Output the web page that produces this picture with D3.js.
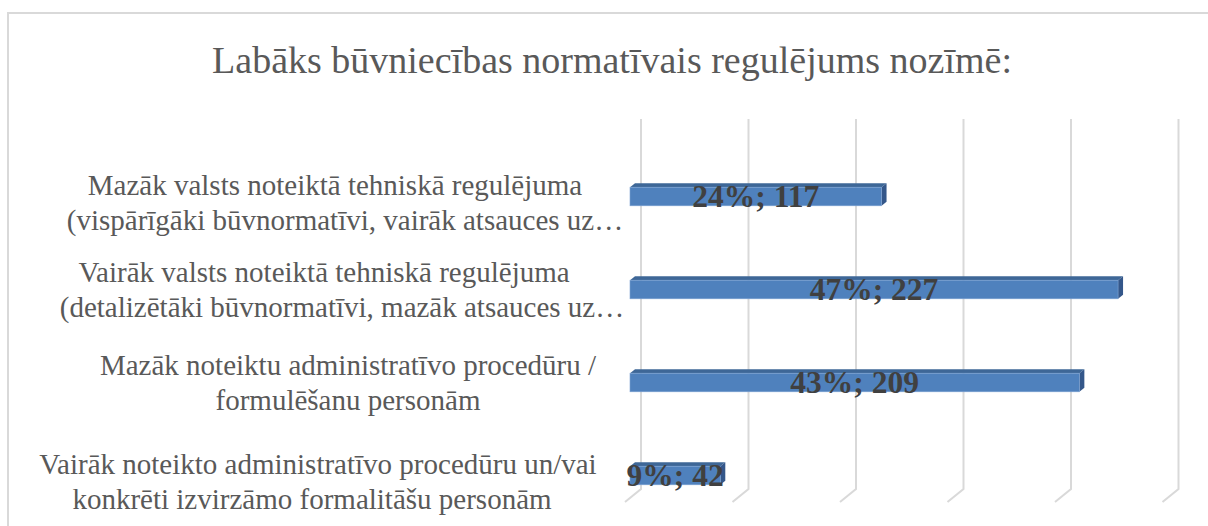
<!DOCTYPE html>
<html>
<head>
<meta charset="utf-8">
<script src="https://cdn.jsdelivr.net/npm/d3@7"></script>
<style>
  html, body { margin: 0; padding: 0; background: #ffffff; }
  svg { display: block; }
</style>
</head>
<body>
<svg id="chart" width="1208" height="526"></svg>
<script>
// ---- data ----
const title = "Labāks būvniecības normatīvais regulējums nozīmē:";
const categories = [
  "Mazāk valsts noteiktā tehniskā regulējuma (vispārīgāki būvnormatīvi, vairāk atsauces uz…",
  "Vairāk valsts noteiktā tehniskā regulējuma (detalizētāki būvnormatīvi, mazāk atsauces uz…",
  "Mazāk noteiktu administratīvo procedūru / formulēšanu personām",
  "Vairāk noteikto administratīvo procedūru un/vai konkrēti izvirzāmo formalitāšu personām"
];
const categoryLines = [
  ["Mazāk valsts noteiktā tehniskā regulējuma", "(vispārīgāki būvnormatīvi, vairāk atsauces uz…"],
  ["Vairāk valsts noteiktā tehniskā regulējuma", "(detalizētāki būvnormatīvi, mazāk atsauces uz…"],
  ["Mazāk noteiktu administratīvo procedūru /", "formulēšanu personām"],
  ["Vairāk noteikto administratīvo procedūru un/vai", "konkrēti izvirzāmo formalitāšu personām"]
];
const counts = [117, 227, 209, 42];
const percents = ["24%", "47%", "43%", "9%"];
const xTicks = [0, 50, 100, 150, 200, 250];

// ---- layout ----
const svg = d3.select("#chart");
const FONT = "'Liberation Serif', 'Times New Roman', serif";
const lineCenters = [[335, 345], [324, 342], [348, 348], [318, 312]];
const lineOffsets = [-2, -8, -8, -1.5];
const lineGap = 35;
const depthX = 5, depthY = 4;      // bar depth
const wallDX = 11;                 // back wall offset from bar front
const floorDX = -5, floorDY = 13;  // floor front edge offset from wall bottom
const wallTop = 119, wallBottom = 489;

const x = d3.scaleLinear().domain([0, 250]).range([630, 1167.5]);
const y = d3.scaleBand().domain(categories).range([150, 522]).paddingInner(0.8).paddingOuter(0.4);

// border
svg.append("rect")
  .attr("x", 8).attr("y", 13)
  .attr("width", 1220).attr("height", 540)
  .attr("fill", "#ffffff")
  .attr("stroke", "#d9d9d9").attr("stroke-width", 2);

// title
svg.append("text")
  .attr("x", 612).attr("y", 73)
  .attr("text-anchor", "middle")
  .attr("font-family", FONT)
  .attr("font-size", 38)
  .attr("fill", "#595959")
  .text(title);

// gridlines (back wall + floor)
svg.append("g").selectAll("path")
  .data(xTicks)
  .join("path")
  .attr("d", v => {
    const xb = x(v) + wallDX;
    return `M${xb},${wallTop}L${xb},${wallBottom}L${xb + floorDX - wallDX},${wallBottom + floorDY}`;
  })
  .attr("fill", "none")
  .attr("stroke", "#d9d9d9")
  .attr("stroke-width", 2);

// bars
const bars = svg.append("g").selectAll("g")
  .data(categories.map((c, i) => ({ c, v: counts[i], p: percents[i] })))
  .join("g");

bars.append("path") // top face
  .attr("d", d => {
    const x0 = x(0), x1 = x(d.v), yt = y(d.c);
    return `M${x0},${yt}L${x0 + depthX},${yt - depthY}L${x1 + depthX},${yt - depthY}L${x1},${yt}Z`;
  })
  .attr("fill", "#3e6797");

bars.append("path") // side face
  .attr("d", d => {
    const x1 = x(d.v), yt = y(d.c), h = y.bandwidth();
    return `M${x1},${yt}L${x1 + depthX},${yt - depthY}L${x1 + depthX},${yt + h - depthY}L${x1},${yt + h}Z`;
  })
  .attr("fill", "#34578a");

bars.append("rect") // front face
  .attr("x", x(0))
  .attr("y", d => y(d.c))
  .attr("width", d => x(d.v) - x(0))
  .attr("height", y.bandwidth())
  .attr("fill", "#4f81bd")
  .attr("stroke", "#7ea3d3")
  .attr("stroke-width", 0.6);

// data labels
bars.append("text")
  .attr("x", d => (x(0) + x(d.v)) / 2)
  .attr("y", d => y(d.c) + y.bandwidth() + 1)
  .attr("text-anchor", "middle")
  .attr("font-family", FONT)
  .attr("font-weight", "bold")
  .attr("font-size", 31.5)
  .attr("fill", "#404040")
  .text(d => `${d.p}; ${d.v}`);

// category labels
const lab = svg.append("g").selectAll("text")
  .data(categories)
  .join("text")
  .attr("font-family", FONT)
  .attr("font-size", 29)
  .attr("fill", "#595959")
  .attr("text-anchor", "middle");

lab.each(function(c, i) {
  const cy = y(c) + y.bandwidth() / 2;
  d3.select(this).selectAll("tspan")
    .data(categoryLines[i])
    .join("tspan")
    .attr("x", (t, j) => lineCenters[i][j])
    .attr("y", (t, j) => cy + lineOffsets[i] + j * lineGap)
    .text(t => t);
});
</script>
</body>
</html>
